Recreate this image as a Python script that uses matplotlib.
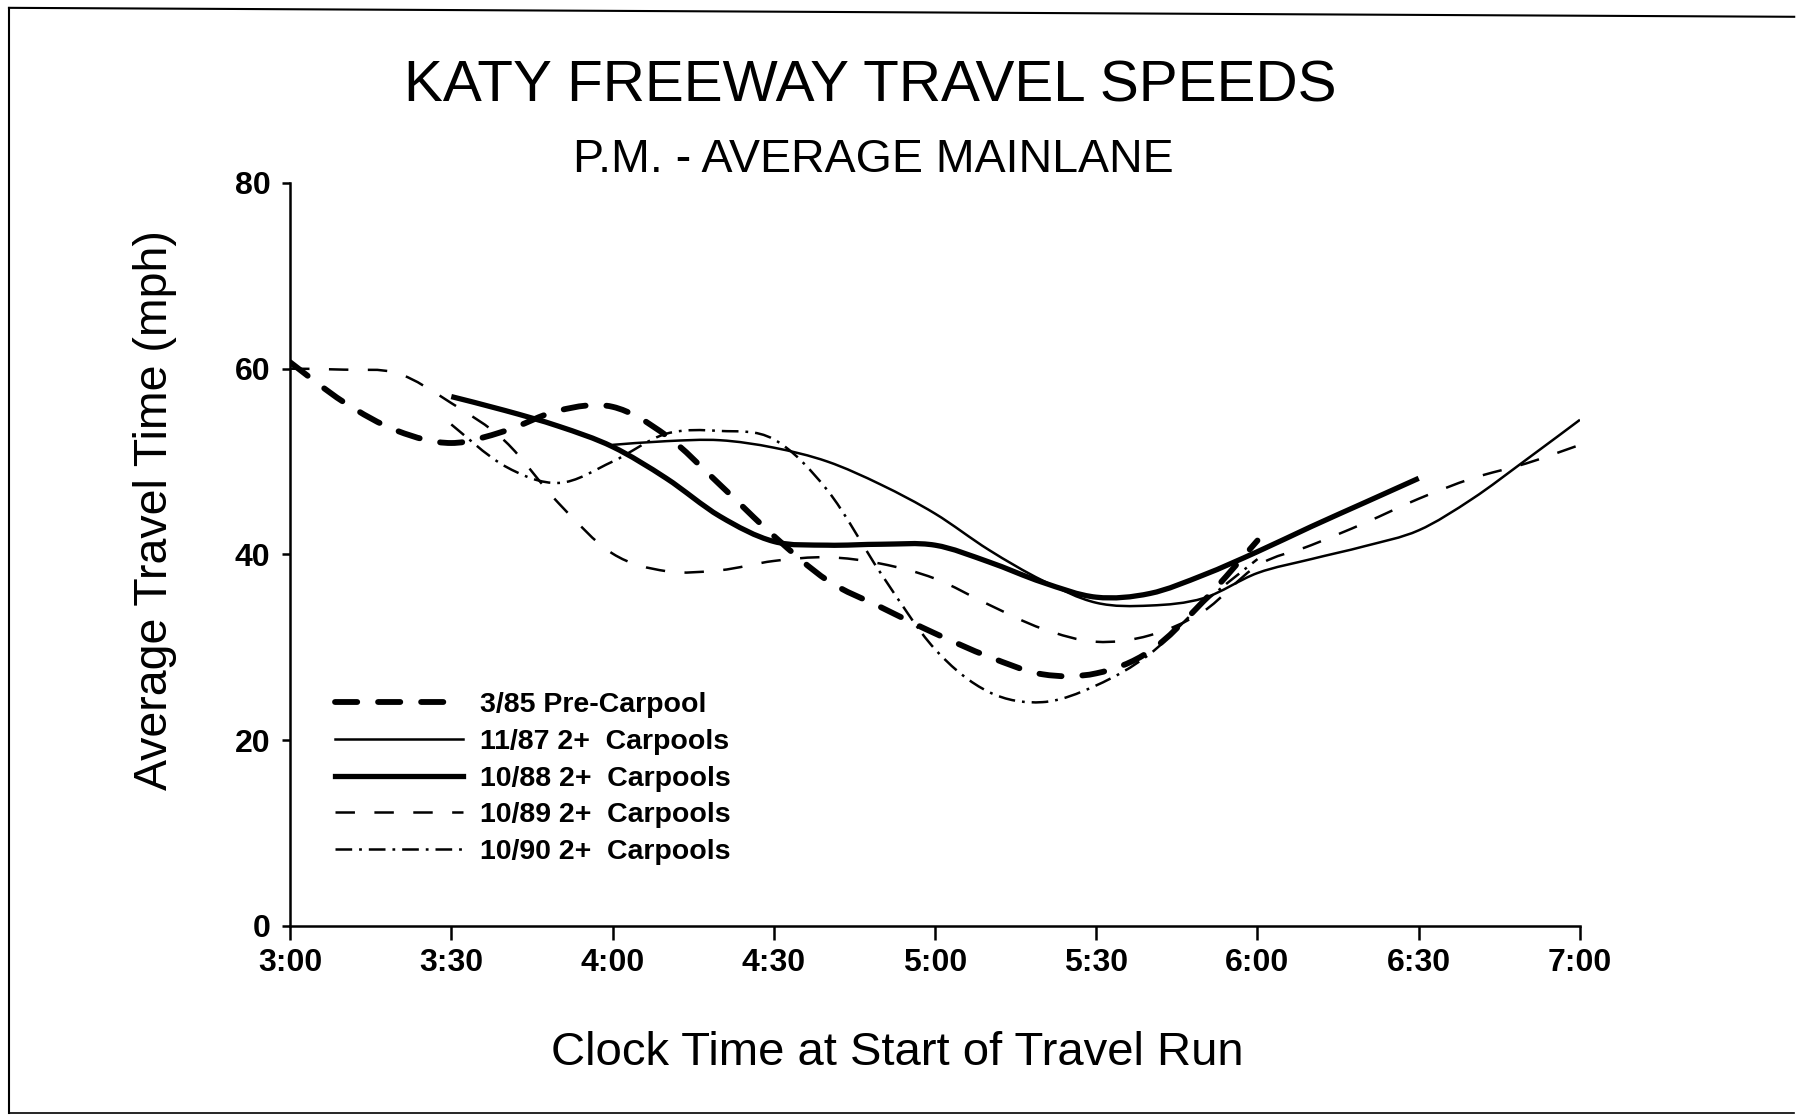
import matplotlib
matplotlib.use("Agg")
import matplotlib.pyplot as plt
from matplotlib.lines import Line2D
from matplotlib.path import Path
from matplotlib.patches import PathPatch

plt.rcParams["font.family"] = ["Liberation Sans", "DejaVu Sans"]
plt.rcParams["lines.scale_dashes"] = False

# minutes after 3:00 PM, speeds in mph
t_85 = [0, 10, 20, 30, 40, 50, 60, 70, 80, 90, 100, 110, 120, 130, 140, 150, 160, 170, 180]
v_85 = [60.7, 56.4, 53.3, 52.0, 53.3, 55.5, 55.9, 52.8, 47.5, 42.0, 37.2, 34.3, 31.5, 29.0, 27.1, 27.2, 29.6, 35.0, 41.5]

t_87 = [60, 70, 80, 90, 100, 110, 120, 130, 140, 150, 160, 170, 180, 190, 200, 210, 220, 230, 240]
v_87 = [51.8, 52.2, 52.3, 51.5, 50.0, 47.5, 44.4, 40.5, 37.2, 34.8, 34.5, 35.3, 38.0, 39.5, 40.9, 42.6, 46.0, 50.2, 54.5]

t_88 = [30, 40, 50, 60, 70, 80, 90, 100, 110, 120, 130, 140, 150, 160, 170, 180, 190, 200, 210]
v_88 = [57.0, 55.5, 53.8, 51.6, 48.2, 44.1, 41.4, 41.0, 41.1, 41.0, 39.2, 37.0, 35.4, 35.8, 37.8, 40.3, 43.0, 45.6, 48.2]

t_89 = [0, 10, 20, 30, 40, 50, 60, 70, 80, 90, 100, 110, 120, 130, 140, 150, 160, 170, 180, 190, 200, 210, 220, 230, 240]
v_89 = [60.0, 59.9, 59.5, 56.3, 52.2, 45.5, 40.1, 38.2, 38.3, 39.3, 39.7, 39.0, 37.4, 34.6, 32.0, 30.6, 31.3, 33.9, 38.8, 41.0, 43.4, 46.0, 48.2, 49.8, 51.8]

t_90 = [30, 40, 50, 60, 70, 80, 90, 100, 110, 120, 130, 140, 150, 160, 170, 180]
v_90 = [54.0, 49.5, 47.7, 50.0, 53.0, 53.3, 52.4, 46.9, 37.9, 29.8, 25.2, 24.1, 25.9, 29.3, 34.8, 39.5]

labels = ["3/85 Pre-Carpool", "11/87 2+  Carpools", "10/88 2+  Carpools",
          "10/89 2+  Carpools", "10/90 2+  Carpools"]

xticks = [0, 30, 60, 90, 120, 150, 180, 210, 240]
xticklabels = ["3:00", "3:30", "4:00", "4:30", "5:00", "5:30", "6:00", "6:30", "7:00"]
yticks = [0, 20, 40, 60, 80]


def smooth_path(xs, ys):
    # bezier curve through the points (catmull-rom style handles)
    verts = [(xs[0], ys[0])]
    codes = [Path.MOVETO]
    n = len(xs)
    for i in range(n - 1):
        x0, y0 = (xs[i - 1], ys[i - 1]) if i > 0 else (xs[i], ys[i])
        x1, y1 = xs[i], ys[i]
        x2, y2 = xs[i + 1], ys[i + 1]
        x3, y3 = (xs[i + 2], ys[i + 2]) if i + 2 < n else (x2, y2)
        verts += [(x1 + (x2 - x0) / 6, y1 + (y2 - y0) / 6),
                  (x2 - (x3 - x1) / 6, y2 - (y3 - y1) / 6),
                  (x2, y2)]
        codes += [Path.CURVE4] * 3
    return Path(verts, codes)


my_dpi = 100
fig = plt.figure(figsize=(1796 / my_dpi, 1119 / my_dpi), dpi=my_dpi)
ax = fig.add_axes([0.1615, 0.1725, 0.7182, 0.664])

styles = [
    dict(lw=4.2, ls=(0, (16, 15)), capstyle="round"),
    dict(lw=1.8, ls="-", capstyle="butt"),
    dict(lw=3.8, ls="-", capstyle="butt"),
    dict(lw=1.8, ls=(0, (14, 14)), capstyle="butt"),
    dict(lw=1.8, ls=(0, (12, 5, 2, 5)), capstyle="butt"),
]
series = [(t_85, v_85), (t_87, v_87), (t_88, v_88), (t_89, v_89), (t_90, v_90)]

handles = []
for (xs, ys), st, lab in zip(series, styles, labels):
    patch = PathPatch(smooth_path(xs, ys), facecolor="none", edgecolor="black",
                      lw=st["lw"], linestyle=st["ls"], capstyle=st["capstyle"])
    ax.add_patch(patch)
    handles.append(Line2D([], [], color="black", lw=st["lw"], linestyle=st["ls"],
                          dash_capstyle=st["capstyle"]))

ax.set_xlim(0, 240)
ax.set_ylim(0, 80)
ax.set_xticks(xticks)
ax.set_xticklabels(xticklabels)
ax.set_yticks(yticks)
for s in ["top", "right"]:
    ax.spines[s].set_visible(False)
for s in ["left", "bottom"]:
    ax.spines[s].set_linewidth(1.8)
ax.tick_params(axis="x", length=10, width=1.8, pad=6, labelsize=23)
ax.tick_params(axis="y", length=6, width=1.8, pad=8, labelsize=23)
for lab in ax.get_xticklabels() + ax.get_yticklabels():
    lab.set_fontweight("bold")

ax.legend(handles, labels, loc="upper left", bbox_to_anchor=(0.035, 0.315), frameon=False,
          prop={"size": 20.5, "weight": "bold"}, handlelength=4.48,
          handletextpad=0.61, labelspacing=0.38, borderpad=0, borderaxespad=0)

fig.text(0.4844, 0.9097, "KATY FREEWAY TRAVEL SPEEDS", ha="center", va="baseline", fontsize=42)
fig.text(0.486, 0.8463, "P.M. - AVERAGE MAINLANE", ha="center", va="baseline", fontsize=33.5)
fig.text(0.0863, 0.544, "Average Travel Time (mph)", ha="center", va="center",
         rotation=90, fontsize=33.5)
fig.text(0.4994, 0.0483, "Clock Time at Start of Travel Run", ha="center", va="baseline",
         fontsize=34)

# scanned page border
fig.add_artist(Line2D([0.005, 0.005], [0.005, 0.993], transform=fig.transFigure, color="black", lw=1.5))
fig.add_artist(Line2D([0.005, 0.999], [0.993, 0.985], transform=fig.transFigure, color="black", lw=1.5))
fig.add_artist(Line2D([0.005, 0.999], [0.005, 0.005], transform=fig.transFigure, color="black", lw=1.2))

fig.savefig("out.png", dpi=my_dpi)
